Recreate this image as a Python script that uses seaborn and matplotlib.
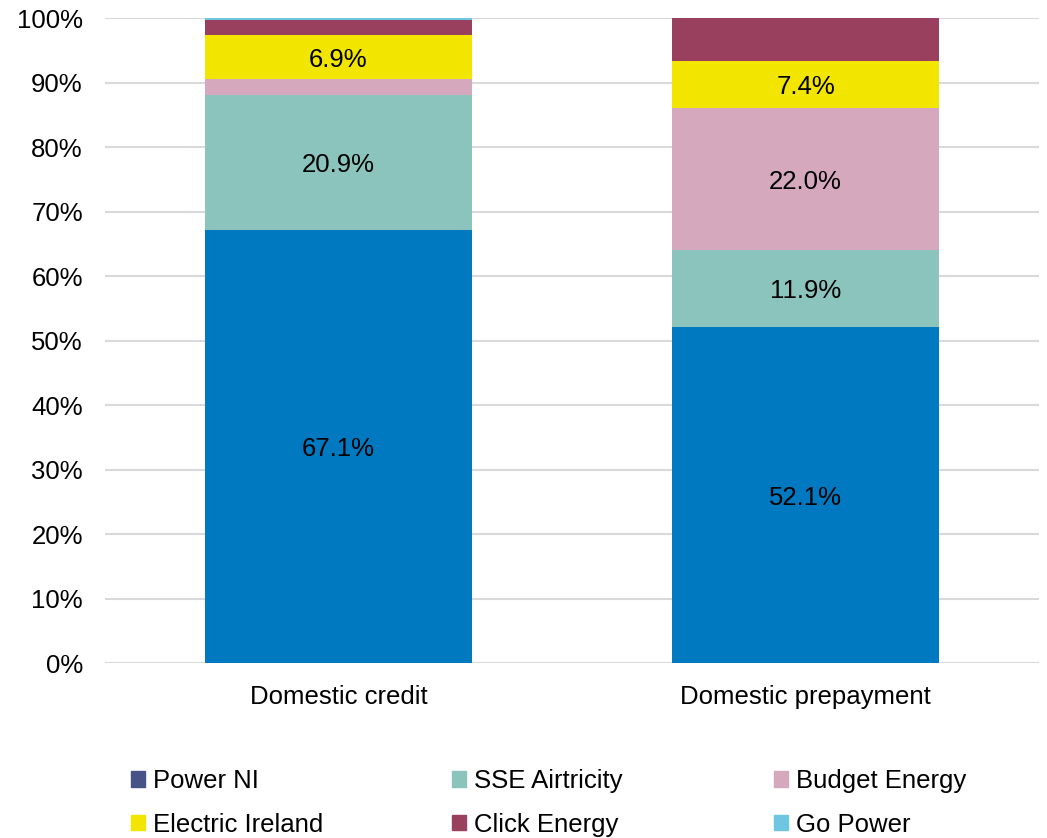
import matplotlib
matplotlib.use("Agg")
import matplotlib.pyplot as plt
import seaborn as sns
import pandas as pd
from matplotlib.patches import Rectangle

# -----------------------------
# Data (market share, %)
# -----------------------------
categories = ["Domestic credit", "Domestic prepayment"]
suppliers = ["Power NI", "SSE Airtricity", "Budget Energy",
             "Electric Ireland", "Click Energy", "Go Power"]
power_ni = [67.1, 52.1]
sse = [20.9, 11.9]
budget = [2.5, 22.0]
electric_ireland = [6.9, 7.4]
click = [2.3, 6.6]
go_power = [0.3, 0.0]

bar_colors = ["#0079C1", "#8AC4BD", "#D5A8BE", "#F2E500", "#98405E", "#6EC6E0"]
legend_colors = ["#465387", "#8AC4BD", "#D5A8BE", "#F2E500", "#98405E", "#6EC6E0"]
labelled = {"Power NI", "SSE Airtricity", "Budget Energy", "Electric Ireland"}

df = pd.DataFrame({"category": categories,
                   "Power NI": power_ni,
                   "SSE Airtricity": sse,
                   "Budget Energy": budget,
                   "Electric Ireland": electric_ireland,
                   "Click Energy": click,
                   "Go Power": go_power})

sns.set_style("white")
plt.rcParams["font.family"] = ["Liberation Sans", "DejaVu Sans"]
fs = 18.5

fig = plt.figure(figsize=(10.47, 8.38), dpi=100)
ax = fig.add_axes([0.1003, 0.2088, 0.8921, 0.7697])

bottom = [0.0, 0.0]
for name, col in zip(suppliers, bar_colors):
    sns.barplot(x="category", y=name, data=df, bottom=bottom, color=col,
                width=0.57, saturation=1, linewidth=0, ax=ax)
    labels = [f"{v:.1f}%" if (name in labelled and v >= 5) else ""
              for v in df[name]]
    txts = ax.bar_label(ax.containers[-1], labels=labels, label_type="center",
                        fontsize=fs, color="black")
    for t in txts:
        t.set_y(t.get_position()[1])
        t.set_va("center_baseline")
    bottom = [b + v for b, v in zip(bottom, df[name])]

ax.set_ylim(0, 100)
ax.set_xlim(-0.5, 1.5)
ax.set_yticks(range(0, 101, 10))
ax.set_yticklabels([f"{t}%" for t in range(0, 101, 10)])
ax.set_xlabel("")
ax.set_ylabel("")
ax.tick_params(axis="y", length=0, pad=16, labelsize=fs, labelcolor="black")
ax.tick_params(axis="x", length=0, pad=16, labelsize=fs, labelcolor="black")
ax.yaxis.grid(True, color="#D9D9D9", linewidth=1.5)
ax.set_axisbelow(True)
for s in ax.spines.values():
    s.set_visible(False)

# Legend: three columns, two rows
handles = [Rectangle((0, 0), 1, 1, color=c) for c in legend_colors]
col_x = [0.125, 0.432, 0.739]
for i, x in enumerate(col_x):
    idx = [i, i + 3]
    fig.legend([handles[j] for j in idx], [suppliers[j] for j in idx],
               loc="upper left", bbox_to_anchor=(x, 0.082), frameon=False,
               fontsize=fs, handlelength=0.55, handleheight=0.55,
               handletextpad=0.3, labelspacing=0.75, borderaxespad=0,
               borderpad=0, labelcolor="black")

fig.savefig("out.png", dpi=100)
